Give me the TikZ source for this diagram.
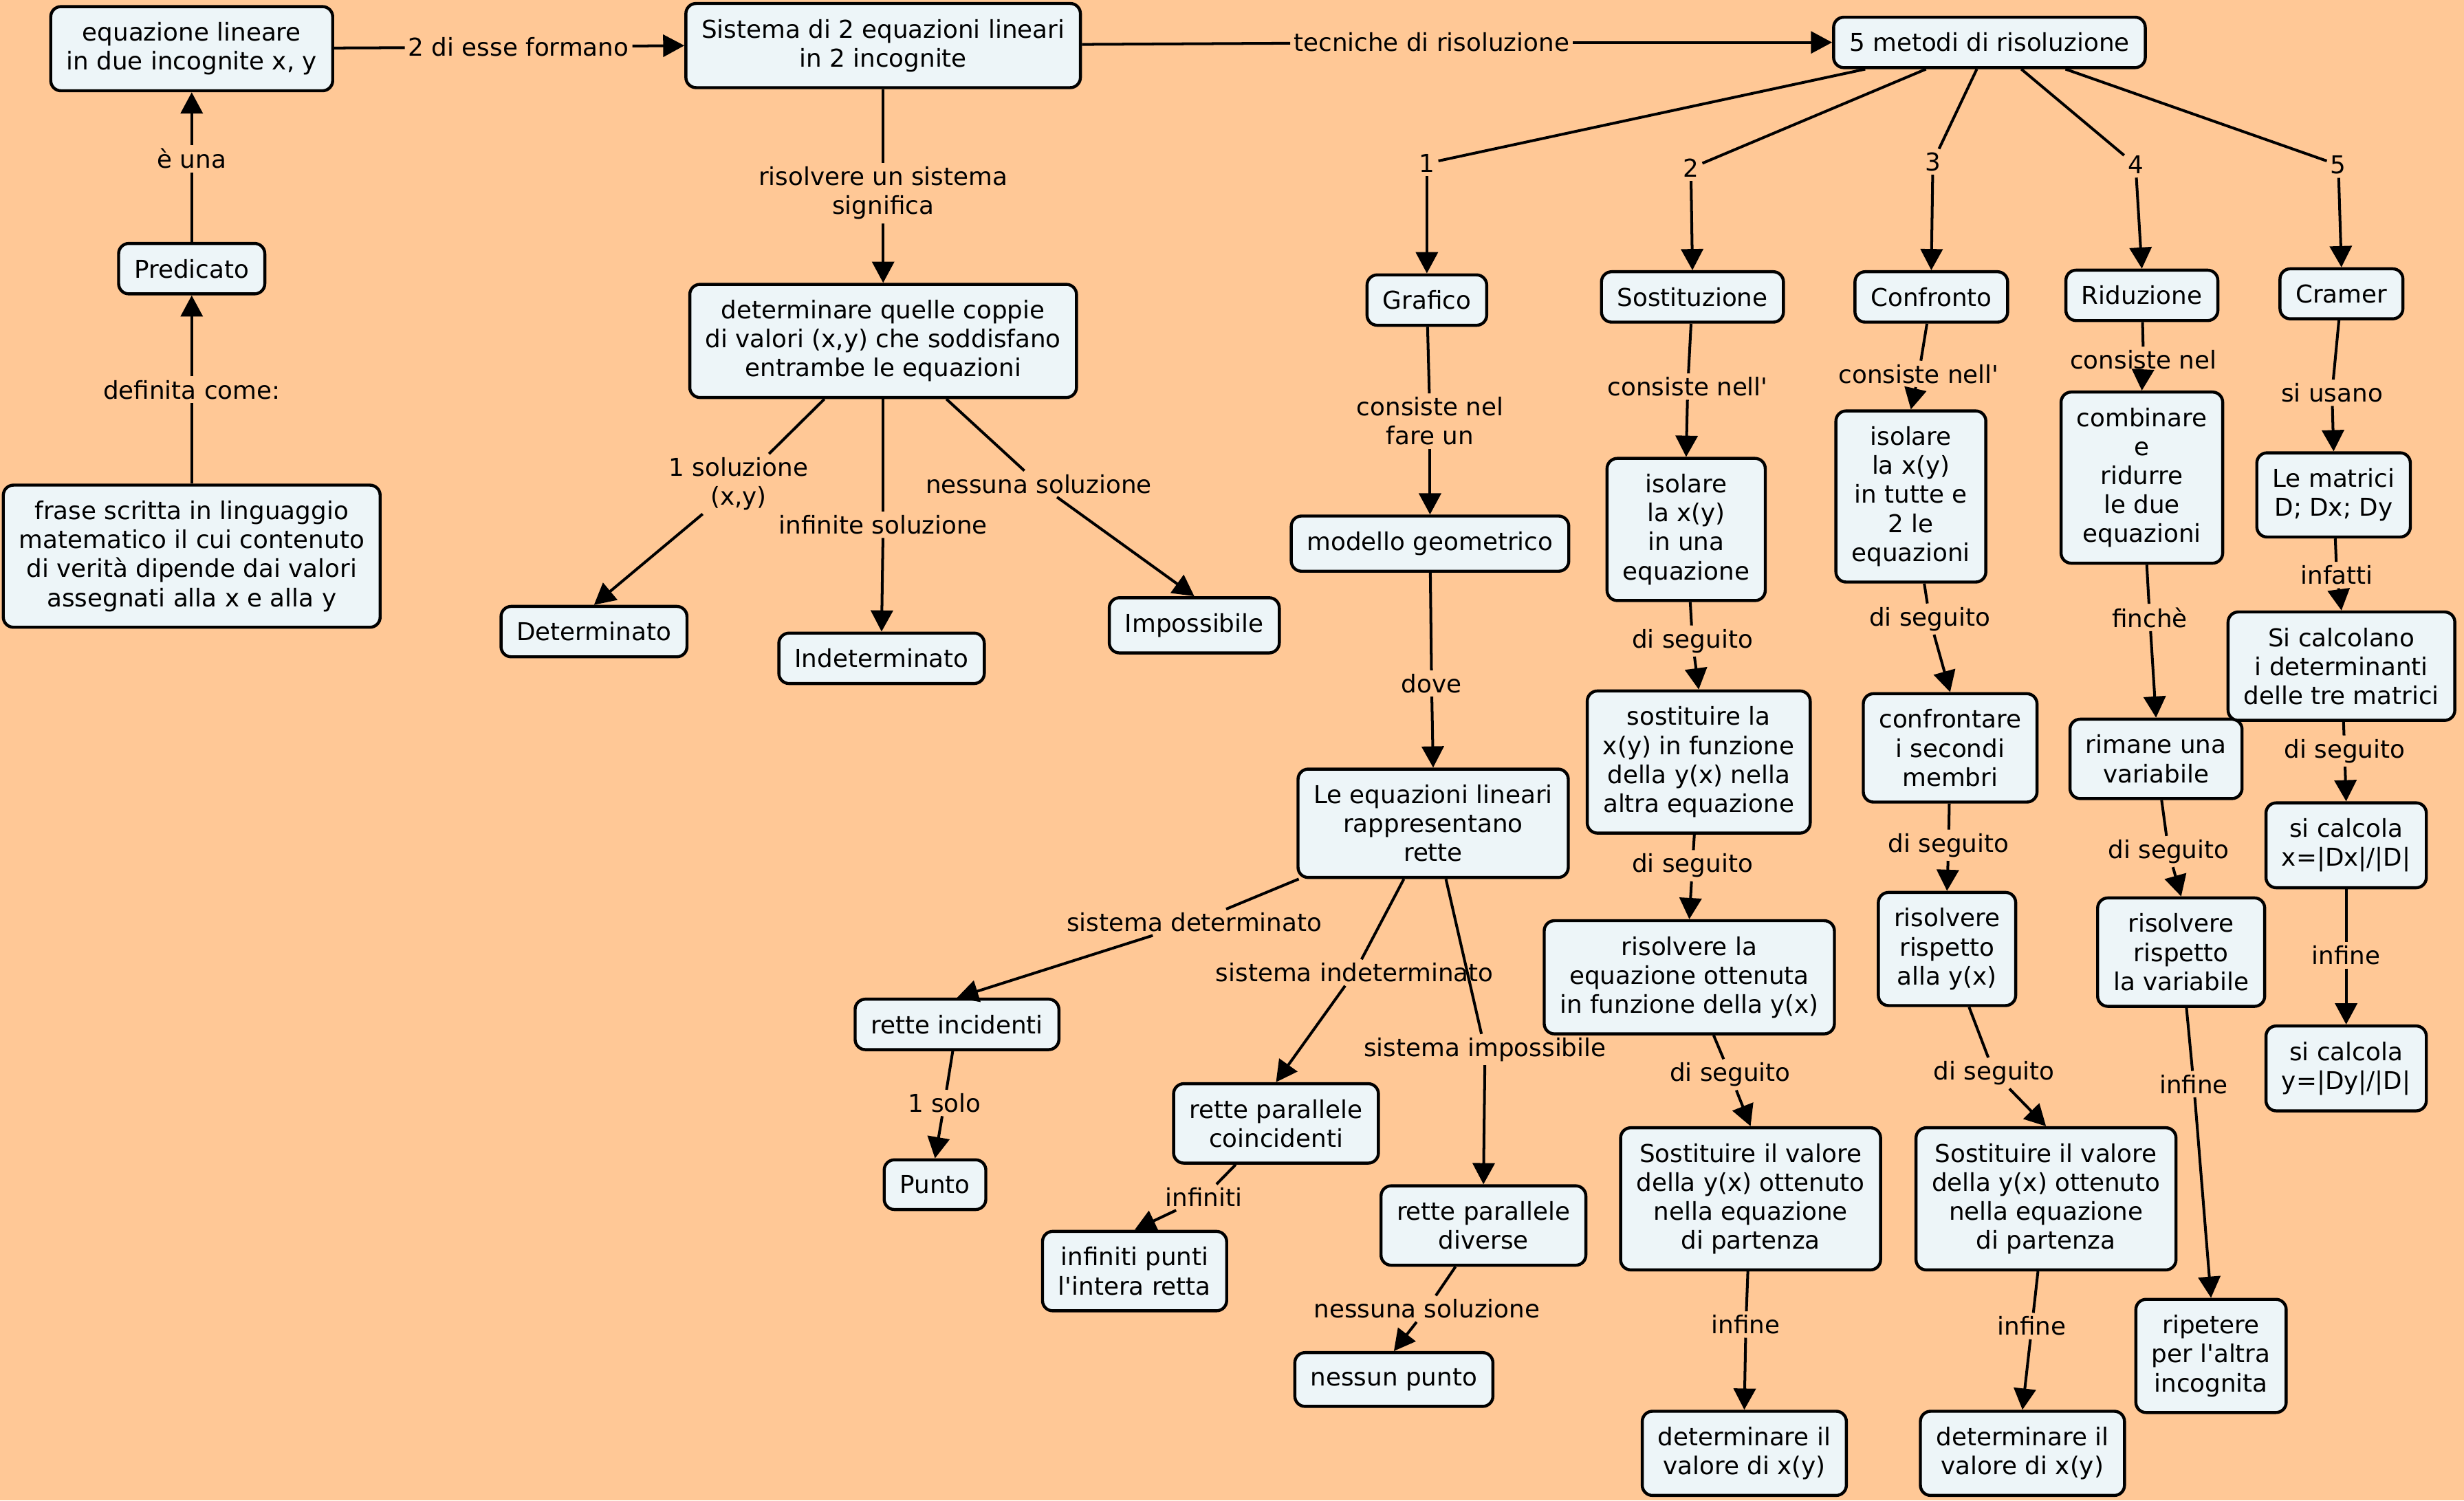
\documentclass[tikz,border=0pt]{standalone}
\usepackage{fontspec}
\setmainfont{DejaVu Sans}[Ligatures=TeXOff]
\usetikzlibrary{arrows.meta}
\definecolor{fond}{RGB}{255,200,150}
\definecolor{boite}{RGB}{237,245,248}

\begin{document}
\begin{tikzpicture}[x=0.02cm,y=-0.02cm,
  font=\fontsize{8.9}{10.5}\selectfont,
  box/.style={draw=black,fill=boite,rounded corners=0.13cm,line width=1.1pt,align=center,inner xsep=0.2cm,inner ysep=0.2cm},
  lab/.style={inner sep=0.04cm,align=center},
  fl/.style={line width=1pt,-{Triangle[length=0.27cm,width=0.28cm]}}]

     \newcommand\lien[3]{%{source}{etichetta}{arrivo}
     \draw[line width=1pt] (#1) -- (#2);
     \draw[fl] (#2) -- (#3);
     }

     \fill[fond] (0,0) rectangle (1568,955);
     \useasboundingbox (0,0) rectangle (1568,955);

     % colonna di sinistra
     \node[box] (eq) at (122,31) {equazione lineare\\in due incognite x, y};
     \node[box] (pred) at (122,171) {Predicato};
     \node[box] (frase) at (122,354) {frase scritta in linguaggio\\matematico il cui contenuto\\di verità dipende dai valori\\assegnati alla x e alla y};
     \node[lab] (lUna) at (122,101) {è una};
     \node[lab] (lDef) at (122,248) {definita come:};

     % sistema
     \node[box] (sys) at (562,29) {Sistema di 2 equazioni lineari\\in 2 incognite};
     \node[box] (coppie) at (562,217) {determinare quelle coppie\\di valori (x,y) che soddisfano\\entrambe le equazioni};
     \node[box] (determ) at (378,402) {Determinato};
     \node[box] (indet) at (561,419) {Indeterminato};
     \node[box] (imposs) at (760,398) {Impossibile};
     \node[lab] (lEsse) at (330,30) {2 di esse formano};
     \node[lab] (lSig) at (562,123) {risolvere un sistema\\significa};
     \node[lab] (lUno) at (470,308) {1 soluzione\\(x,y)};
     \node[lab] (lInf) at (562,334) {infinite soluzione};
     \node[lab] (lNes) at (661,308) {nessuna soluzione};

     % metodi
     \node[box] (met) at (1266,27) {5 metodi di risoluzione};
     \node[lab] (lTec) at (911,27) {tecniche di risoluzione};
     \node[box] (graf) at (908,191) {Grafico};
     \node[box] (sost) at (1077,189) {Sostituzione};
     \node[box] (conf) at (1229,189) {Confronto};
     \node[box] (rid) at (1363,188) {Riduzione};
     \node[box] (cram) at (1490,187) {Cramer};
     \foreach \n/\x/\y in {1/908/104,2/1076/107,3/1230/103,4/1359/105,5/1488/105}
        \node[lab] (n\n) at (\x,\y) {\n};

     % grafico
     \node[box] (modello) at (910,346) {modello geometrico};
     \node[box] (rette) at (912,524) {Le equazioni lineari\\rappresentano\\rette};
     \node[box] (incid) at (609,652) {rette incidenti};
     \node[box] (punto) at (595,754) {Punto};
     \node[box] (coinc) at (812,715) {rette parallele\\coincidenti};
     \node[box] (infpunti) at (722,809) {infiniti punti\\l'intera retta};
     \node[box] (divers) at (944,780) {rette parallele\\diverse};
     \node[box] (nessun) at (887,878) {nessun punto};
     \node[lab] (lFare) at (910,268) {consiste nel\\fare un};
     \node[lab] (lDove) at (911,435) {dove};
     \node[lab] (lDet) at (760,587) {sistema determinato};
     \node[lab] (lInd) at (862,619) {sistema indeterminato};
     \node[lab] (lImp) at (945,668) {sistema impossibile};
     \node[lab] (lSolo) at (601,702) {1 solo};
     \node[lab] (lInfi) at (766,762) {infiniti};
     \node[lab] (lNessuna) at (908,833) {nessuna soluzione};

     % sostituzione
     \node[box] (sostA) at (1073,337) {isolare\\la x(y)\\in una\\equazione};
     \node[box] (sostB) at (1081,485) {sostituire la\\x(y) in funzione\\della y(x) nella\\altra equazione};
     \node[box] (sostC) at (1075,622) {risolvere la\\equazione ottenuta\\in funzione della y(x)};
     \node[box] (sostD) at (1114,763) {Sostituire il valore\\della y(x) ottenuto\\nella equazione\\di partenza};
     \node[box] (sostE) at (1110,925) {determinare il\\valore di x(y)};
     \node[lab] (lSostA) at (1074,246) {consiste nell'};
     \node[lab] (lSostB) at (1077,408) {di seguito};
     \node[lab] (lSostC) at (1077,551) {di seguito};
     \node[lab] (lSostD) at (1101,684) {di seguito};
     \node[lab] (lSostE) at (1111,843) {infine};

     % confronto
     \node[box] (confA) at (1216,316) {isolare\\la x(y)\\in tutte e\\2 le\\equazioni};
     \node[box] (confB) at (1241,476) {confrontare\\i secondi\\membri};
     \node[box] (confC) at (1239,604) {risolvere\\rispetto\\alla y(x)};
     \node[box] (confD) at (1302,763) {Sostituire il valore\\della y(x) ottenuto\\nella equazione\\di partenza};
     \node[box] (confE) at (1287,925) {determinare il\\valore di x(y)};
     \node[lab] (lConfA) at (1221,238) {consiste nell'};
     \node[lab] (lConfB) at (1228,394) {di seguito};
     \node[lab] (lConfC) at (1240,538) {di seguito};
     \node[lab] (lConfD) at (1269,683) {di seguito};
     \node[lab] (lConfE) at (1293,844) {infine};

     % riduzione
     \node[box] (ridA) at (1363,304) {combinare\\e\\ridurre\\le due\\equazioni};
     \node[box] (ridB) at (1372,483) {rimane una\\variabile};
     \node[box] (ridC) at (1388,606) {risolvere\\rispetto\\la variabile};
     \node[box] (ridD) at (1407,863) {ripetere\\per l'altra\\incognita};
     \node[lab] (lRidA) at (1364,229) {consiste nel};
     \node[lab] (lRidB) at (1368,393) {finchè};
     \node[lab] (lRidC) at (1380,542) {di seguito};
     \node[lab] (lRidD) at (1396,690) {infine};

     % cramer
     \node[box] (cramA) at (1485,315) {Le matrici\\D; Dx; Dy};
     \node[box] (cramB) at (1490,424) {Si calcolano\\i determinanti\\delle tre matrici};
     \node[box] (cramC) at (1493,538) {si calcola\\x=|Dx|/|D|};
     \node[box] (cramD) at (1493,680) {si calcola\\y=|Dy|/|D|};
     \node[lab] (lCramA) at (1484,250) {si usano};
     \node[lab] (lCramB) at (1487,366) {infatti};
     \node[lab] (lCramC) at (1492,478) {di seguito};
     \node[lab] (lCramD) at (1493,608) {infine};

     % collegamenti
     \lien{pred}{lUna}{eq.south}
     \lien{frase}{lDef}{pred.south}
     \lien{eq}{lEsse}{sys.west}
     \lien{sys}{lTec}{met.west}
     \lien{sys}{lSig}{coppie.north}
     \lien{coppie}{lUno}{determ.north}
     \lien{coppie}{lInf}{indet.north}
     \lien{coppie}{lNes}{imposs.north}
     \lien{met}{n1}{graf.north}
     \lien{met}{n2}{sost.north}
     \lien{met}{n3}{conf.north}
     \lien{met}{n4}{rid.north}
     \lien{met}{n5}{cram.north}

     \lien{graf}{lFare}{modello.north}
     \lien{modello}{lDove}{rette.north}
     \lien{rette}{lDet}{incid.north}
     \lien{rette}{lInd}{coinc.north}
     \lien{rette}{lImp}{divers.north}
     \lien{incid}{lSolo}{punto.north}
     \lien{coinc}{lInfi}{infpunti.north}
     \lien{divers}{lNessuna}{nessun.north}

     \lien{sost}{lSostA}{sostA.north}
     \lien{sostA}{lSostB}{sostB.north}
     \lien{sostB}{lSostC}{sostC.north}
     \lien{sostC}{lSostD}{sostD.north}
     \lien{sostD}{lSostE}{sostE.north}

     \lien{conf}{lConfA}{confA.north}
     \lien{confA}{lConfB}{confB.north}
     \lien{confB}{lConfC}{confC.north}
     \lien{confC}{lConfD}{confD.north}
     \lien{confD}{lConfE}{confE.north}

     \lien{rid}{lRidA}{ridA.north}
     \lien{ridA}{lRidB}{ridB.north}
     \lien{ridB}{lRidC}{ridC.north}
     \lien{ridC}{lRidD}{ridD.north}

     \lien{cram}{lCramA}{cramA.north}
     \lien{cramA}{lCramB}{cramB.north}
     \lien{cramB}{lCramC}{cramC.north}
     \lien{cramC}{lCramD}{cramD.north}
\end{tikzpicture}
\end{document}
